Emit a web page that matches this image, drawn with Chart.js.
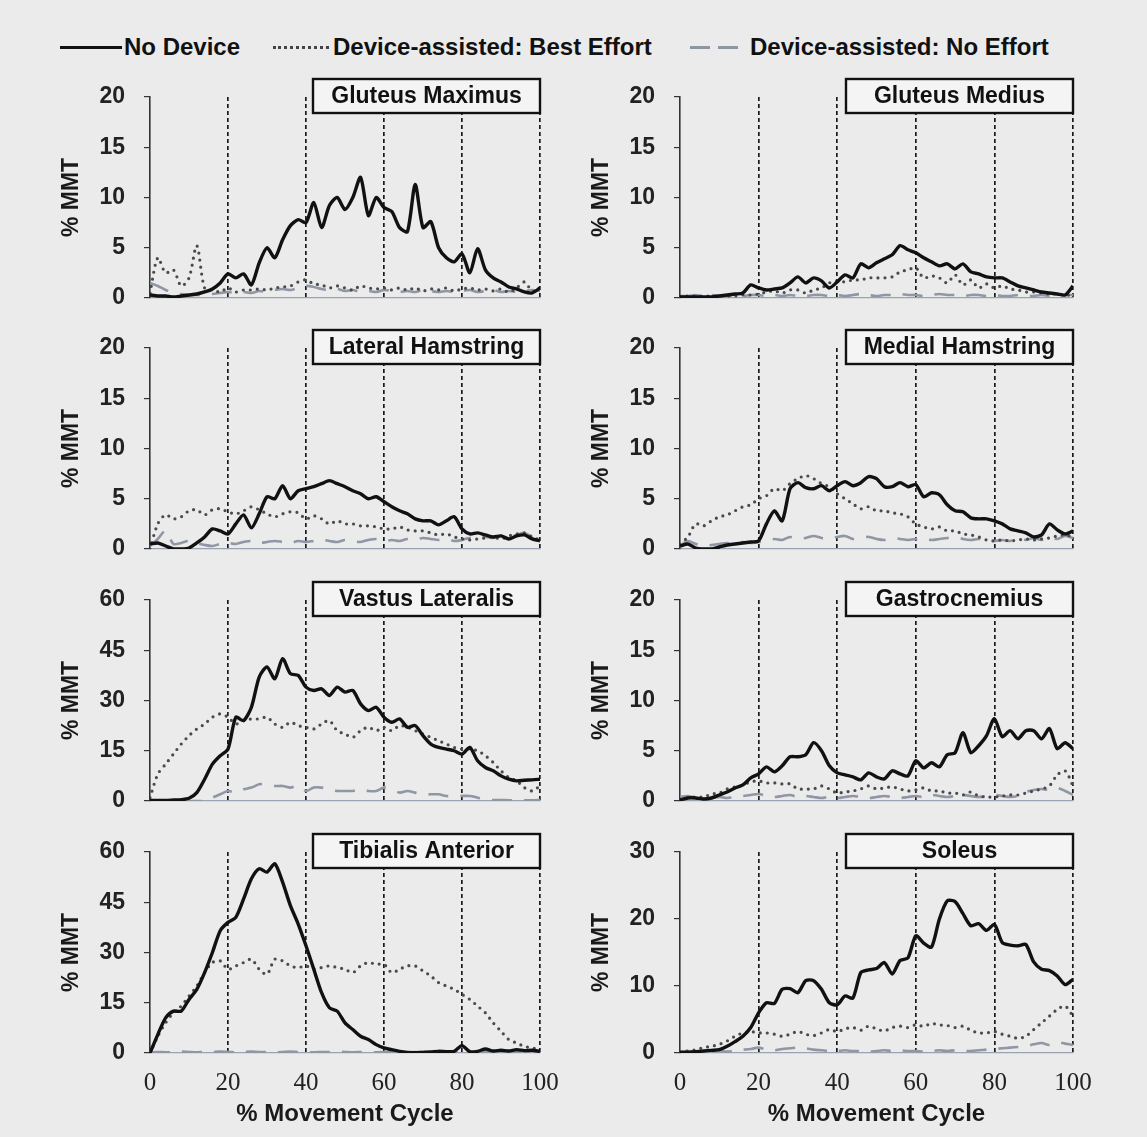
<!DOCTYPE html>
<html>
<head>
<meta charset="utf-8">
<script src="https://cdn.jsdelivr.net/npm/chart.js@4.4.1/dist/chart.umd.min.js"></script>
<style>
  body { margin: 0; background: #ebebeb; width: 1147px; height: 1137px; position: relative; overflow: hidden; font-family: "Liberation Sans", Arial, sans-serif; }
  canvas { position: absolute; }
  .leg { position: absolute; top: 33px; font-weight: bold; font-size: 24px; line-height: 28px; color: #111; white-space: nowrap; }
  .sample { position: absolute; top: 46px; height: 0; }
</style>
</head>
<body>
<!-- Leyenda -->
<div class="sample" style="left:60px;width:62px;border-top:3px solid #111;"></div>
<div class="leg" style="left:124px">No Device</div>
<div class="sample" style="left:273px;width:56px;border-top:3px dotted #444;"></div>
<div class="leg" style="left:333px">Device-assisted: Best Effort</div>
<div class="sample" style="left:690px;width:20px;border-top:3px solid #8f97a5;"></div>
<div class="sample" style="left:718px;width:20px;border-top:3px solid #8f97a5;"></div>
<div class="leg" style="left:750px">Device-assisted: No Effort</div>

<canvas id="c1"></canvas>
<canvas id="c2"></canvas>
<canvas id="c3"></canvas>
<canvas id="c4"></canvas>
<canvas id="c5"></canvas>
<canvas id="c6"></canvas>
<canvas id="c7"></canvas>
<canvas id="c8"></canvas>

<script>
// % del ciclo de movimiento (eje x)
const cycle = [0,2,4,6,8,10,12,14,16,18,20,22,24,26,28,30,32,34,36,38,40,42,44,46,48,50,
  52,54,56,58,60,62,64,66,68,70,72,74,76,78,80,82,84,86,88,90,92,94,96,98,100];

// Gluteus Maximus
const glutMaxNoDevice = [0.3,0.2,0.2,0.1,0.2,0.3,0.4,0.6,0.9,1.5,2.4,2.0,2.4,1.3,3.5,5.0,4.0,5.8,7.2,7.8,
  7.5,9.5,7.0,9.2,10.0,8.8,10.0,12.0,8.2,10.0,9.0,8.6,7.0,6.6,11.3,7.0,7.6,5.0,4.0,3.6,
  4.4,2.5,4.9,2.8,2.0,1.6,1.1,0.9,0.6,0.5,1.0];
const glutMaxBest = [0.5,4.0,2.5,2.8,1.2,2.0,5.2,1.0,0.8,0.6,1.0,0.6,0.8,0.8,0.9,0.8,1.0,1.1,1.2,1.6,
  1.8,1.4,1.3,1.0,1.2,1.0,0.8,1.2,1.0,0.9,1.0,0.8,1.0,0.8,1.0,0.7,0.9,0.8,1.0,0.7,
  0.9,1.0,0.8,0.9,0.7,0.9,0.6,1.0,1.6,0.7,0.8];
const glutMaxNone = [1.5,1.2,0.8,0.6,0.4,0.3,0.3,0.3,0.4,0.5,0.6,0.5,0.6,0.5,0.7,0.6,0.8,0.9,0.8,1.0,
  1.2,1.1,0.9,0.8,0.9,0.7,0.8,0.6,0.7,0.6,0.8,0.7,0.6,0.7,0.6,0.8,0.7,0.6,0.7,0.6,
  0.7,0.8,0.6,0.7,0.8,0.6,0.7,0.6,0.7,0.8,0.7];

// Gluteus Medius
const glutMedNoDevice = [0.1,0.1,0.1,0.1,0.1,0.2,0.3,0.4,0.5,1.3,1.0,0.8,0.9,1.0,1.5,2.1,1.5,2.0,1.7,1.0,
  1.6,2.3,2.0,3.4,3.0,3.5,3.9,4.3,5.2,4.8,4.5,4.0,3.6,3.2,3.4,2.9,3.4,2.6,2.4,2.1,
  2.0,2.0,1.6,1.2,1.0,0.8,0.6,0.5,0.4,0.3,1.2];
const glutMedBest = [0.2,0.2,0.2,0.2,0.2,0.2,0.2,0.2,0.3,0.3,0.4,0.6,0.7,0.5,0.8,0.8,0.5,0.8,1.0,1.5,
  1.7,1.6,1.8,1.8,2.0,2.0,2.0,2.1,2.6,2.8,3.0,2.0,2.2,2.0,1.5,2.3,1.3,1.8,1.0,1.4,
  1.0,1.2,0.9,0.8,0.6,0.6,0.5,0.4,0.4,0.3,0.3];
const glutMedNone = [0.2,0.2,0.3,0.2,0.3,0.2,0.2,0.3,0.2,0.3,0.3,0.2,0.3,0.2,0.3,0.2,0.2,0.3,0.3,0.2,
  0.3,0.2,0.3,0.4,0.3,0.2,0.3,0.3,0.4,0.3,0.3,0.2,0.3,0.4,0.3,0.3,0.2,0.3,0.3,0.2,
  0.3,0.2,0.2,0.3,0.2,0.2,0.3,0.2,0.2,0.3,0.3];

// Lateral Hamstring
const latHamNoDevice = [0.5,0.6,0.3,0.0,0.0,0.1,0.6,1.2,2.0,1.8,1.5,2.5,3.4,2.1,3.5,5.2,5.0,6.3,5.0,5.8,
  6.0,6.2,6.5,6.8,6.5,6.2,5.8,5.5,5.0,5.2,4.7,4.2,3.8,3.5,3.0,2.8,2.8,2.4,2.8,3.2,
  2.0,1.5,1.6,1.4,1.2,1.3,1.0,1.3,1.4,1.0,0.8];
const latHamBest = [0.0,2.5,3.4,3.0,3.2,3.8,3.9,3.4,3.9,4.0,3.7,3.5,3.8,4.2,3.9,3.5,3.2,3.5,3.7,3.6,
  3.0,3.3,3.0,2.5,2.8,2.5,2.5,2.3,2.3,2.2,2.0,2.0,2.2,1.9,1.8,1.8,1.6,1.4,1.5,1.2,
  1.0,0.9,1.0,1.1,1.2,1.0,1.3,1.5,1.6,1.2,0.9];
const latHamNone = [0.3,1.0,1.8,0.5,0.6,0.8,0.6,0.4,0.3,0.5,0.6,0.5,0.7,0.8,0.6,0.7,0.8,0.7,0.6,0.8,
  0.7,0.8,0.9,0.8,0.7,0.9,0.8,0.7,0.9,1.0,0.8,0.9,0.8,1.0,0.9,1.1,1.0,0.9,1.0,0.8,
  0.9,1.1,1.0,1.2,1.1,1.3,1.2,1.4,1.6,1.2,1.0];

// Medial Hamstring
const medHamNoDevice = [0.3,0.5,0.1,0.0,0.0,0.2,0.4,0.5,0.6,0.7,0.8,2.5,3.8,2.8,6.0,6.6,6.1,6.0,6.3,5.8,
  6.3,6.7,6.3,6.6,7.2,7.0,6.2,6.2,6.6,6.2,6.4,5.2,5.6,5.4,4.4,3.8,3.7,3.1,3.0,3.0,
  2.8,2.5,2.0,1.8,1.6,1.2,1.4,2.5,1.9,1.5,1.8];
const medHamBest = [0.5,1.2,2.5,2.3,2.8,3.2,3.4,3.8,4.2,4.4,5.0,5.3,6.0,5.8,6.5,7.0,7.3,7.0,6.5,6.2,
  5.5,5.0,4.5,4.0,4.2,3.8,3.8,3.6,3.5,3.2,2.5,2.2,2.0,2.2,1.8,1.8,1.5,1.4,1.2,0.9,
  0.8,0.9,0.8,0.9,1.0,0.9,1.0,1.1,1.3,1.4,1.2];
const medHamNone = [0.3,0.8,0.5,0.3,0.4,0.5,0.6,0.5,0.7,0.6,0.7,0.8,1.0,0.9,1.2,1.0,1.1,1.3,1.1,1.0,
  1.2,1.3,1.0,1.1,1.2,1.0,0.9,1.1,1.0,0.9,1.0,1.1,0.9,1.0,1.1,1.2,1.0,0.9,1.0,0.9,
  0.8,0.9,0.8,1.0,0.9,1.1,0.9,1.2,1.0,1.3,1.1];

// Vastus Lateralis
const vastNoDevice = [0.2,0.2,0.2,0.3,0.4,0.8,2.5,6.5,11,13.5,15.5,25,24,28,37,40,36.5,42.5,38,37.5,
  34,33,33.5,31.5,34,32.5,33,29,27,28,25,23.5,24.5,22,22.5,19.5,17,16,15.5,15,
  14,16,12,10,9,7.5,6.5,6,6.2,6.3,6.5];
const vastBest = [1,8,11,14,17,19.5,21.5,23,25,26,25,23,24,24.5,24.5,25,23,22,23.5,22.5,
  22,21.5,23,24,21,20,19,21,22,21,22,21,22.5,22,21,20,19,18,17,16,
  15.5,15.5,15,13.5,11.5,9,7,6,4,3,4.5];
const vastNone = [0,0,0,0,0,0,0,0,1,2,3,2.5,3.5,4,5,5,4.5,4.5,4,4.5,
  3,4,4,3.5,3,3,3,3.5,3,3,4,3.5,2.5,3,2.5,2,2,2,1.5,1.5,
  1.5,1.5,1,0.5,0.3,0.3,0.2,0.2,0.2,0.2,0.3];

// Gastrocnemius
const gastNoDevice = [0.1,0.3,0.3,0.2,0.3,0.6,0.9,1.3,1.6,2.3,2.7,3.4,2.9,3.5,4.4,4.4,4.6,5.8,5.0,3.5,
  2.8,2.6,2.4,2.1,2.8,2.4,2.2,3.0,2.7,2.5,4.0,3.3,3.8,3.4,4.6,4.8,6.8,4.8,5.5,6.5,
  8.2,6.4,7.0,6.2,7.0,7.0,6.2,7.2,5.2,5.8,5.2];
const gastBest = [0.2,0.3,0.4,0.4,0.7,0.8,1.2,1.4,1.6,1.9,2.0,1.8,1.8,1.7,1.7,1.2,1.2,1.2,1.5,1.2,
  0.8,0.9,1.0,1.2,1.5,1.2,1.3,1.4,1.2,1.0,1.1,1.3,1.0,1.0,0.8,0.8,0.6,0.9,0.5,0.4,
  0.4,0.5,0.6,0.6,0.8,1.0,1.2,1.5,2.6,3.0,1.5];
const gastNone = [0.4,0.5,0.3,0.2,0.3,0.4,0.3,0.4,0.5,0.6,0.7,0.5,0.4,0.5,0.6,0.4,0.5,0.4,0.3,0.4,
  0.3,0.4,0.5,0.4,0.3,0.4,0.5,0.4,0.3,0.4,0.5,0.4,0.6,0.5,0.4,0.5,0.6,0.5,0.4,0.5,
  0.6,0.5,0.4,0.5,0.9,1.1,1.2,1.1,1.3,1.0,0.6];

// Tibialis Anterior
const tibNoDevice = [0,5.5,10.5,12.5,12.5,16,19,24,30,36.5,39,40.5,46,52,55,54,56.5,51,44,38.5,
  32,25,18,13.5,12.5,9,7,5,4,2.5,1.5,1,0.5,0.2,0.1,0.2,0.3,0.5,0.4,0.5,
  2.2,0.4,0.5,1.2,0.6,0.8,0.6,1.0,0.7,0.8,0.5];
const tibBest = [0,5,9,12,14,17,20,24,27,27.5,25,26,27,28,25,23.5,28,27.5,26,25.5,
  26,25,25.5,26,25.5,25,24,26,27,26.5,26.5,24,25,26,26,24.5,23,21,20,19,
  17.5,16,14,12,9,6.5,4,3,2,1.5,1];
const tibNone = [0.2,0.3,0.2,0.3,0.4,0.3,0.2,0.3,0.3,0.4,0.3,0.2,0.3,0.4,0.3,0.3,0.2,0.3,0.4,0.3,
  0.3,0.2,0.3,0.3,0.4,0.3,0.2,0.3,0.3,0.2,0.3,0.4,0.3,0.2,0.3,0.3,0.2,0.3,0.4,0.3,
  0.3,0.2,0.3,0.3,0.2,0.3,0.4,0.3,0.3,0.2,0.3];

// Soleus
const solNoDevice = [0.1,0.1,0.2,0.3,0.4,0.5,1.0,1.7,2.5,3.8,6.0,7.5,7.4,9.5,9.6,9.0,10.8,10.8,9.5,7.5,
  7.2,8.5,8.2,12.0,12.4,12.6,13.5,11.8,13.8,14.2,17.5,16.4,15.8,20.0,22.7,22.6,20.8,19.0,19.3,18.3,
  19.2,16.5,16.1,16.0,16.2,13.6,12.5,12.3,11.5,10.2,11.0];
const solBest = [0.2,0.3,0.5,0.8,1.0,1.3,1.8,2.5,3.0,3.2,3.0,3.0,2.8,2.5,2.8,3.2,2.8,2.6,3.0,3.5,
  3.2,3.6,3.8,3.4,4.0,3.6,3.3,3.8,4.0,3.8,4.2,4.0,4.4,4.2,4.1,3.8,4.0,3.4,3.0,3.0,
  3.2,2.8,2.5,2.2,2.5,3.5,4.5,5.5,6.5,7.0,5.5];
const solNone = [0.2,0.3,0.2,0.3,0.2,0.3,0.2,0.4,0.5,0.6,0.8,0.5,0.4,0.6,0.7,0.8,0.7,0.5,0.4,0.3,
  0.3,0.4,0.3,0.3,0.2,0.3,0.4,0.3,0.4,0.3,0.3,0.2,0.3,0.4,0.3,0.4,0.3,0.3,0.4,0.5,
  0.6,0.7,0.8,0.9,1.0,1.3,1.5,1.2,1.6,1.4,1.2];

const sansFont = '"Liberation Sans", Arial, sans-serif';
const serifFont = '"Liberation Serif", "Times New Roman", serif';

// Caja con el nombre del musculo
const panelTitle = {
    id: 'panelTitle',
    afterDatasetsDraw(chart, args, opts) {
        const { ctx, chartArea } = chart;
        const w = 227, h = 34;
        const x = chartArea.right - w;
        const y = chartArea.top - 18;
        ctx.save();
        ctx.fillStyle = '#f4f4f4';
        ctx.fillRect(x, y, w, h);
        ctx.lineWidth = 2.4;
        ctx.strokeStyle = '#111';
        ctx.strokeRect(x, y, w, h);
        ctx.fillStyle = '#111';
        ctx.font = 'bold 23px ' + sansFont;
        ctx.textAlign = 'center';
        ctx.textBaseline = 'middle';
        ctx.fillText(opts.text, x + w / 2, y + h / 2 + 1);
        ctx.restore();
    }
};

function pairs(values) {
    return cycle.map((x, i) => ({ x: x, y: values[i] }));
}

function makePanel(id, title, yMax, yStep, noDevice, bestEffort, noEffort, col, row) {
    // Posicion del panel en la pagina
    const axisX = col === 0 ? 150 : 680;
    const plotW = col === 0 ? 390 : 393;
    const yTop = [97, 348, 600, 852][row];
    const last = row === 3;
    const bottom = last ? 84 : 14;

    const canvas = document.getElementById(id);
    canvas.width = 110 + plotW + 25;
    canvas.height = 25 + 201 + bottom;
    canvas.style.left = (axisX - 110) + 'px';
    canvas.style.top = (yTop - 25) + 'px';

    new Chart(canvas.getContext('2d'), {
        type: 'line',
        data: {
            datasets: [{
                label: 'No Device',
                data: pairs(noDevice),
                borderColor: '#111',
                borderWidth: 3.4,
                tension: 0.25
            }, {
                label: 'Device-assisted: Best Effort',
                data: pairs(bestEffort),
                borderColor: '#4a4a4a',
                borderWidth: 3.2,
                borderDash: [0, 7],
                borderCapStyle: 'round',
                tension: 0.3
            }, {
                label: 'Device-assisted: No Effort',
                data: pairs(noEffort),
                borderColor: '#8f97a5',
                borderWidth: 2.6,
                borderDash: [20, 12],
                tension: 0.3
            }]
        },
        options: {
            responsive: false,
            animation: false,
            layout: { padding: { top: 25, right: 25, left: 0, bottom: 0 } },
            elements: { point: { radius: 0 } },
            plugins: {
                legend: { display: false },
                tooltip: { enabled: false },
                panelTitle: { text: title }
            },
            scales: {
                x: {
                    type: 'linear',
                    min: 0,
                    max: 100,
                    // tamaño fijo para que todos los paneles queden alineados
                    afterFit: s => { s.height = bottom; s.paddingLeft = 0; s.paddingRight = 0; },
                    ticks: {
                        display: last,
                        stepSize: 20,
                        padding: 15,
                        color: '#222',
                        font: { family: serifFont, size: 25 }
                    },
                    grid: {
                        drawTicks: false,
                        color: c => (c.tick && c.tick.value > 0) ? '#1a1a1a' : 'rgba(0,0,0,0)',
                        lineWidth: 1.7
                    },
                    border: { display: true, color: '#9aa3b2', width: 1.2, dash: [4, 3] },
                    title: {
                        display: last,
                        text: '% Movement Cycle',
                        color: '#1a1a1a',
                        font: { family: sansFont, size: 24, weight: 'bold' },
                        padding: { top: 0, bottom: 8 }
                    }
                },
                y: {
                    min: 0,
                    max: yMax,
                    afterFit: s => { s.width = 110; s.paddingTop = 0; s.paddingBottom = 0; },
                    ticks: {
                        stepSize: yStep,
                        padding: 19,
                        color: '#222',
                        font: { family: sansFont, size: 23, weight: 'bold' }
                    },
                    grid: { drawOnChartArea: false, drawTicks: true, tickLength: 6, color: '#333', lineWidth: 1.2 },
                    border: { display: true, color: '#333', width: 1.6 },
                    title: {
                        display: true,
                        text: '% MMT',
                        color: '#1a1a1a',
                        font: { family: sansFont, size: 23, weight: 'bold' },
                        padding: { top: 18, bottom: 0 }
                    }
                }
            }
        },
        plugins: [panelTitle]
    });
}

makePanel('c1', 'Gluteus Maximus', 20, 5, glutMaxNoDevice, glutMaxBest, glutMaxNone, 0, 0);
makePanel('c2', 'Gluteus Medius', 20, 5, glutMedNoDevice, glutMedBest, glutMedNone, 1, 0);
makePanel('c3', 'Lateral Hamstring', 20, 5, latHamNoDevice, latHamBest, latHamNone, 0, 1);
makePanel('c4', 'Medial Hamstring', 20, 5, medHamNoDevice, medHamBest, medHamNone, 1, 1);
makePanel('c5', 'Vastus Lateralis', 60, 15, vastNoDevice, vastBest, vastNone, 0, 2);
makePanel('c6', 'Gastrocnemius', 20, 5, gastNoDevice, gastBest, gastNone, 1, 2);
makePanel('c7', 'Tibialis Anterior', 60, 15, tibNoDevice, tibBest, tibNone, 0, 3);
makePanel('c8', 'Soleus', 30, 10, solNoDevice, solBest, solNone, 1, 3);
</script>
</body>
</html>
